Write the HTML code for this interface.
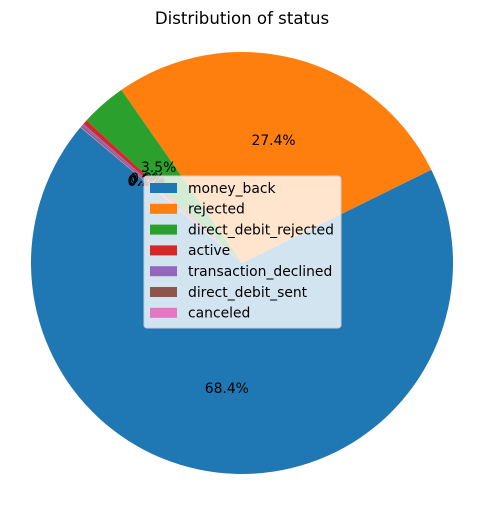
<!DOCTYPE html>
<html><head><meta charset="utf-8"><style>
body{margin:0;background:#fff;}
svg{font-family:"DejaVu Sans","Liberation Sans",sans-serif;}
</style></head><body>
<svg id="chart" width="484" height="504" viewBox="0 0 484 504">
<text x="242" y="24" text-anchor="middle" font-size="16.6">Distribution of status</text>
<g id="slices"></g>
<g id="labels"></g>
<g id="legend"></g>
</svg>
<script>
const categories=["money_back","rejected","direct_debit_rejected","active","transaction_declined","direct_debit_sent","canceled"];
const values=[68.4,27.4,3.5,0.35,0.2,0.1,0.05];
const colors=["#1f77b4","#ff7f0e","#2ca02c","#d62728","#9467bd","#8c564b","#e377c2"];
const NS="http://www.w3.org/2000/svg";
const cx=242,cy=263,r=211,start=140;
const total=values.reduce((a,b)=>a+b,0);
const sg=document.getElementById('slices'),lg=document.getElementById('labels'),leg=document.getElementById('legend');
function pt(a,rr){const t=a*Math.PI/180;return [cx+rr*Math.cos(t),cy-rr*Math.sin(t)];}
let a=start;
values.forEach((v,i)=>{
 const sw=v/total*360,a2=a+sw;
 const p1=pt(a,r),p2=pt(a2,r);
 const p=document.createElementNS(NS,'path');
 p.setAttribute('d',`M${cx},${cy} L${p1[0]},${p1[1]} A${r},${r} 0 ${sw>180?1:0} 0 ${p2[0]},${p2[1]} Z`);
 p.setAttribute('fill',colors[i]);
 
 
 sg.appendChild(p);
 const m=pt((a+a2)/2,r*0.6);
 const t=document.createElementNS(NS,'text');
 t.setAttribute('x',m[0]);t.setAttribute('y',m[1]+4.5);t.setAttribute('text-anchor','middle');t.setAttribute('font-size','13.9');
 t.textContent=(v/total*100).toFixed(1)+'%';
 
 
 lg.appendChild(t);
 a=a2;
});
const box=document.createElementNS(NS,'rect');
box.setAttribute('x',144);box.setAttribute('y',176);box.setAttribute('width',197);box.setAttribute('height',152);box.setAttribute('rx',3);
box.setAttribute('fill','rgba(255,255,255,0.8)');box.setAttribute('stroke','#ccc');


leg.appendChild(box);
categories.forEach((c,i)=>{
 const y=188+i*20.8;
 const s=document.createElementNS(NS,'rect');
 s.setAttribute('x',150);s.setAttribute('y',y-5);s.setAttribute('width',27);s.setAttribute('height',10);s.setAttribute('fill',colors[i]);
 
 
 leg.appendChild(s);
 const t=document.createElementNS(NS,'text');
 t.setAttribute('x',188);t.setAttribute('y',y+4.8);t.setAttribute('font-size','13.9');t.textContent=c;
 
 
 leg.appendChild(t);
});
</script>
</body></html>
